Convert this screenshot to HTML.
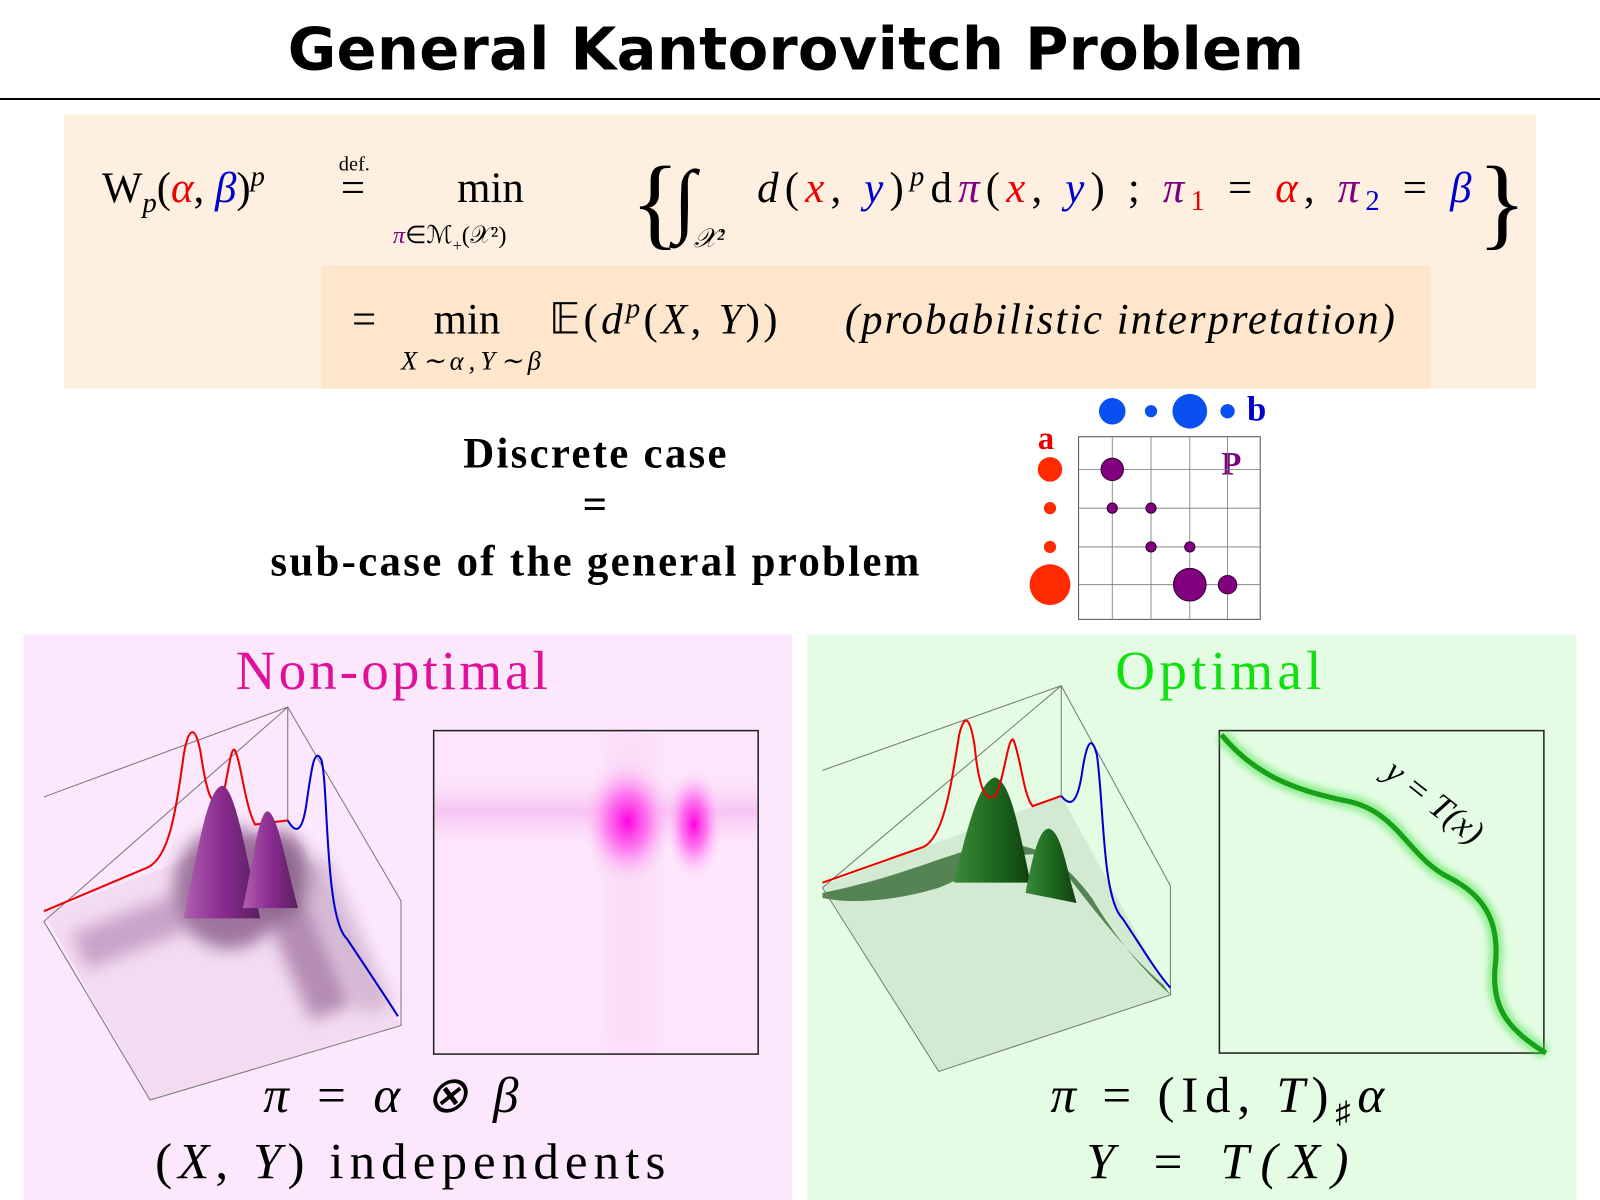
<!DOCTYPE html>
<html><head><meta charset="utf-8"><style>
html,body{margin:0;padding:0;background:#fff;}
svg{display:block;}
text{font-family:"Liberation Serif",serif;}
</style></head><body>
<svg width="1600" height="1200" viewBox="0 0 1568 1176" xmlns="http://www.w3.org/2000/svg">
<defs>
<radialGradient id="pk1" cx="0.5" cy="0.5" r="0.5"><stop offset="0" stop-color="#ff00e0"/><stop offset="0.45" stop-color="#ff50ec" stop-opacity="0.7"/><stop offset="1" stop-color="#ffd0f8" stop-opacity="0"/></radialGradient>
<linearGradient id="band" x1="0" y1="0" x2="0" y2="1"><stop offset="0" stop-color="#fbd8f8" stop-opacity="0"/><stop offset="0.5" stop-color="#f7c4f3"/><stop offset="1" stop-color="#fbd8f8" stop-opacity="0"/></linearGradient>
<linearGradient id="mnt" x1="0" y1="0" x2="1" y2="0"><stop offset="0" stop-color="#b060b0"/><stop offset="0.5" stop-color="#8a2a90"/><stop offset="1" stop-color="#5a2060"/></linearGradient>
<linearGradient id="gmnt" x1="0" y1="0" x2="1" y2="0"><stop offset="0" stop-color="#3a8a3a"/><stop offset="0.5" stop-color="#1f6a1f"/><stop offset="1" stop-color="#104010"/></linearGradient>
<filter id="blur8"><feGaussianBlur stdDeviation="8"/></filter>
<filter id="blur3"><feGaussianBlur stdDeviation="3"/></filter>
</defs>

<text x="780" y="68" text-anchor="middle" font-weight="bold" font-size="58" style="font-family:'DejaVu Sans',sans-serif" textLength="996">General Kantorovitch Problem</text>
<line x1="0" y1="97" x2="1568" y2="97" stroke="#000" stroke-width="2"/>

<rect x="63" y="112" width="1442" height="269" fill="#fdf0e0"/>
<rect x="315" y="260" width="1087" height="121" fill="#fde6cc"/>
<g font-size="42">
<text x="100" y="198">W<tspan font-size="28" font-style="italic" dy="10">p</tspan><tspan dy="-10">(</tspan><tspan fill="#e00" font-style="italic">α</tspan>, <tspan fill="#00c" font-style="italic">β</tspan>)<tspan font-size="28" font-style="italic" dy="-16">p</tspan></text>
<text x="332" y="167" font-size="20">def.</text>
<text x="334" y="198">=</text>
<text x="448" y="198">min</text>
<text x="385" y="238" font-size="24"><tspan fill="#800080" font-style="italic">π</tspan>∈ℳ<tspan font-size="16" dy="8">+</tspan><tspan dy="-8">(𝒳²)</tspan></text>
<text x="618" y="232" font-size="100">{</text>
<text x="660" y="222" font-size="80" font-style="italic">∫</text>
<text x="680" y="242" font-size="26" font-style="italic">𝒳²</text>
<text x="742" y="198" textLength="700"><tspan font-style="italic">d</tspan>(<tspan fill="#e00" font-style="italic">x</tspan>, <tspan fill="#00c" font-style="italic">y</tspan>)<tspan font-size="28" font-style="italic" dy="-16">p</tspan><tspan dy="16">d</tspan><tspan fill="#800080" font-style="italic">π</tspan>(<tspan fill="#e00" font-style="italic">x</tspan>, <tspan fill="#00c" font-style="italic">y</tspan>) ;  <tspan fill="#800080" font-style="italic">π</tspan><tspan fill="#e00" font-size="28" dy="8">1</tspan><tspan dy="-8"> = </tspan><tspan fill="#e00" font-style="italic">α</tspan>, <tspan fill="#800080" font-style="italic">π</tspan><tspan fill="#00c" font-size="28" dy="8">2</tspan><tspan dy="-8"> = </tspan><tspan fill="#00c" font-style="italic">β</tspan></text>
<text x="1448" y="232" font-size="100">}</text>
<text x="345" y="327">=</text>
<text x="425" y="327">min</text>
<text x="393" y="362" font-size="26" font-style="italic" textLength="137">X∼α,Y∼β</text>
<text x="538" y="327" textLength="224"><tspan>𝔼(</tspan><tspan font-style="italic">d</tspan><tspan font-size="28" font-style="italic" dy="-16">p</tspan><tspan dy="16">(</tspan><tspan font-style="italic">X</tspan>, <tspan font-style="italic">Y</tspan>))</text>
<text x="828" y="327" font-style="italic" textLength="539">(probabilistic interpretation)</text>
</g>

<g font-weight="bold" font-size="42" text-anchor="middle">
<text x="583" y="458" textLength="258">Discrete case</text>
<text x="583" y="508">=</text>
<text x="583" y="564" textLength="636">sub-case of the general problem</text>
</g>

<g id="disc">
<rect x="1057" y="428" width="178" height="179" fill="none" stroke="#555" stroke-width="1"/>
<text x="1017" y="440" fill="#e00" font-weight="bold" font-size="32">a</text>
<text x="1222" y="412" fill="#00c" font-weight="bold" font-size="34">b</text>
<text x="1197" y="465" fill="#800080" font-weight="bold" font-size="32">P</text>
</g>

<rect x="23" y="622" width="753" height="554" fill="#fce8fc"/>
<text x="384" y="675" text-anchor="middle" fill="#e0109a" font-size="54" textLength="306">Non-optimal</text>
<g>
<polygon points="43,895 282,804 393,1005 147,1078" fill="#f3dcf1"/>
<g filter="url(#blur8)" opacity="0.7">
<polygon points="70,915 200,865 215,900 85,950" fill="#b88ab8"/>
<polygon points="245,860 285,845 345,985 305,1000" fill="#9a6a9a"/>
<polygon points="290,850 320,840 385,985 355,995" fill="#c8a8c8"/>
<ellipse cx="225" cy="870" rx="55" ry="60" fill="#7a4a7a"/>
<ellipse cx="272" cy="860" rx="32" ry="45" fill="#6a3a6a"/>
</g>
<path d="M43,781 L282,693 L282,804 M282,693 L393,883 L393,1005 L147,1078 L43,903 Z" fill="none" stroke="#777" stroke-width="1"/>
<path d="M43,893 L145,850 C165,840 172,800 180,740 C185,710 192,710 197,740 C203,780 208,790 215,785 C222,780 225,730 230,735 C236,745 240,790 250,808 L282,804" fill="none" stroke="#e00" stroke-width="2"/>
<path d="M282,804 C290,818 296,815 300,790 C305,755 308,730 315,745 C322,770 318,900 340,920 C360,950 380,980 390,996" fill="none" stroke="#00c" stroke-width="2"/>
<path d="M180,900 C195,830 203,772 218,770 C230,772 240,830 255,900 Z" fill="url(#mnt)"/>
<path d="M238,890 C248,845 253,797 262,795 C272,797 280,845 292,890 Z" fill="url(#mnt)"/>
</g>
<g>
<rect x="425" y="716" width="318" height="317" fill="#fde6fb"/>
<rect x="426" y="760" width="316" height="70" fill="url(#band)"/>
<rect x="590" y="716" width="55" height="317" fill="#f9d8f6" opacity="0.6" filter="url(#blur8)"/>
<ellipse cx="615" cy="805" rx="45" ry="62" fill="url(#pk1)"/>
<ellipse cx="680" cy="808" rx="28" ry="55" fill="url(#pk1)"/>
<rect x="425" y="716" width="318" height="317" fill="none" stroke="#222" stroke-width="1.5"/>
</g>
<text x="383" y="1090" text-anchor="middle" font-size="50" font-style="italic" textLength="250">π = α ⊗ β</text>
<text x="402" y="1155" text-anchor="middle" font-size="50" textLength="500">(<tspan font-style="italic">X</tspan>, <tspan font-style="italic">Y</tspan>) independents</text>

<rect x="791" y="622" width="754" height="554" fill="#e4fce4"/>
<text x="1194" y="675" text-anchor="middle" fill="#10e010" font-size="54" textLength="202">Optimal</text>
<g>
<polygon points="806,868 1040,780 1147,975 920,1050" fill="#d2ead2"/>
<path d="M806,875 C880,860 920,840 960,830 C1010,820 1040,840 1070,880 C1100,930 1130,960 1147,975 L1140,965 C1110,940 1070,890 1040,850 C1010,820 970,850 920,870 C870,885 830,885 806,880 Z" fill="#356a35" opacity="0.8"/>
<path d="M935,865 C948,810 960,765 975,762 C990,765 998,810 1010,865 Z" fill="url(#gmnt)"/>
<path d="M1005,875 C1012,840 1018,812 1028,812 C1040,815 1045,850 1055,885 Z" fill="url(#gmnt)"/>
<path d="M806,755 L1040,672 L1040,780 M1040,672 L1147,868 L1147,975 L920,1050 L806,870 Z" fill="none" stroke="#777" stroke-width="1"/>
<path d="M806,865 L905,830 C925,820 932,770 940,720 C945,700 950,700 955,730 C960,780 968,785 975,780 C983,770 988,720 993,725 C1000,740 1003,780 1012,790 L1040,780" fill="none" stroke="#e00" stroke-width="2"/>
<path d="M1040,780 C1048,790 1055,790 1060,760 C1065,725 1070,720 1075,740 C1082,790 1080,880 1100,900 C1120,930 1135,955 1147,968" fill="none" stroke="#00c" stroke-width="2"/>
</g>
<g>
<rect x="1195" y="716" width="318" height="316" fill="#e4fce4" stroke="#222" stroke-width="1.5"/>
<path d="M1197,720 C1230,760 1270,775 1320,785 C1370,795 1380,840 1420,860 C1460,880 1470,910 1465,950 C1462,990 1480,1010 1515,1032" fill="none" stroke="#40e040" stroke-width="14" opacity="0.5" filter="url(#blur3)"/>
<path d="M1197,720 C1230,760 1270,775 1320,785 C1370,795 1380,840 1420,860 C1460,880 1470,910 1465,950 C1462,990 1480,1010 1515,1032" fill="none" stroke="#18a018" stroke-width="5"/>
<text x="1355" y="760" font-size="34" font-style="italic" transform="rotate(38 1355 760)">y = T(x)</text>
</g>
<text x="1193" y="1090" text-anchor="middle" font-size="50" textLength="327"><tspan font-style="italic">π</tspan> = (Id, <tspan font-style="italic">T</tspan>)<tspan font-size="30" dy="10">♯</tspan><tspan dy="-10" font-style="italic">α</tspan></text>
<text x="1193" y="1155" text-anchor="middle" font-size="50" font-style="italic" textLength="257">Y = T(X)</text>

<script>
var colPos=[1090,1128,1166,1203];
var rowPos=[460,498,536,573];
var aMass=[12,6,6,20];
var bMass=[13,6,17,7];
var pRows=[0,1,1,2,2,3,3];
var pCols=[0,0,1,1,2,2,3];
var pMass=[11,5,5,5,5,16,9];
var NS='http://www.w3.org/2000/svg';
var g=document.getElementById('disc');
function mk(t,a){var e=document.createElementNS(NS,t);for(var k in a)e.setAttribute(k,a[k]);g.appendChild(e);return e;}
colPos.forEach(function(x){var l=mk('line',{x1:x,y1:428,x2:x,y2:607,stroke:'#777','stroke-width':0.8});

});
rowPos.forEach(function(y){var l=mk('line',{x1:1057,y1:y,x2:1235,y2:y,stroke:'#777','stroke-width':0.8});

});
aMass.forEach(function(r,i){var c=mk('circle',{cx:1029,cy:rowPos[i],r:r,fill:'#ff2a00'});

});
bMass.forEach(function(r,i){var c=mk('circle',{cx:colPos[i],cy:403,r:r,fill:'#0a50f0'});

});
pMass.forEach(function(r,i){var c=mk('circle',{cx:colPos[pCols[i]],cy:rowPos[pRows[i]],r:r,fill:'#800080',stroke:'#300030','stroke-width':1});

});
</script>
</svg>
</body></html>
